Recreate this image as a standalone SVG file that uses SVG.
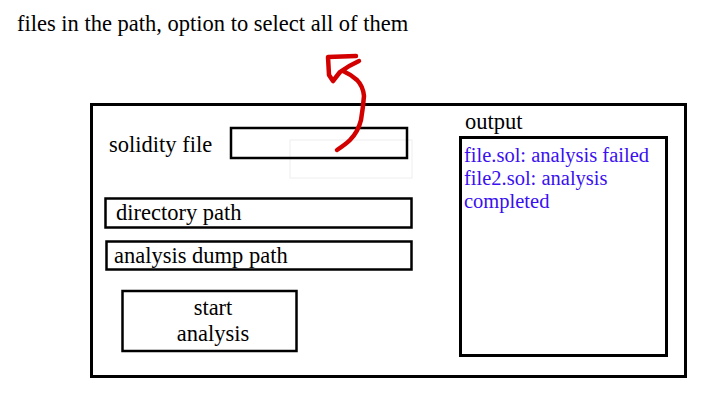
<svg xmlns="http://www.w3.org/2000/svg" width="711" height="411" viewBox="0 0 711 411">
<style>
.t{font-family:"Liberation Serif","Times New Roman",serif;font-size:22.5px;fill:#000}
.o{font-family:"Liberation Serif","Times New Roman",serif;font-size:20.5px;fill:#3a10f0}
.box{fill:#fff;stroke:#000;stroke-width:2.5}
</style>
<rect width="711" height="411" fill="#fff"/>
<text class="t" x="17" y="31">files in the path, option to select all of them</text>
<g id="frame"><rect x="91.5" y="104.5" width="594" height="272" fill="none" stroke="#000" stroke-width="3"/></g>
<g id="solidity-label"><text class="t" x="109" y="152">solidity file</text></g>
<rect x="290" y="140" width="122" height="38" fill="none" stroke="#eee" stroke-width="1"/>
<g id="solidity-input"><rect x="231" y="128" width="176" height="30" fill="none" stroke="#000" stroke-width="2.5"/></g>
<g id="directory-path"><rect class="box" x="105.5" y="198.5" width="306" height="29"/><text class="t" x="116" y="220">directory path</text></g>
<g id="dump-path"><rect class="box" x="106.5" y="241.5" width="305" height="28"/><text class="t" x="114" y="263">analysis dump path</text></g>
<g id="start-analysis"><rect class="box" x="122.5" y="291" width="174" height="60"/><text class="t" x="213" y="315" text-anchor="middle">start</text><text class="t" x="213" y="341" text-anchor="middle">analysis</text></g>
<g id="output-label"><text class="t" x="465" y="129">output</text></g>
<g id="output-box"><rect x="460.5" y="137.5" width="206" height="218" fill="#fff" stroke="#000" stroke-width="3"/>
<text class="o" x="464" y="162">file.sol: analysis failed</text>
<text class="o" x="464" y="185">file2.sol: analysis</text>
<text class="o" x="464" y="208">completed</text></g>
<g id="connectors"><path d="M337,150 Q346,144 350,140 Q358,132 361,120 Q363,108 364,96 Q363,86 357,80 Q350,74 343,71 M359,61 Q348,66 340,72 L333,81 L329,75 L328,57 L356,56" fill="none" stroke="#d30000" stroke-width="4.5" stroke-linecap="round" stroke-linejoin="round"/></g>
</svg>
